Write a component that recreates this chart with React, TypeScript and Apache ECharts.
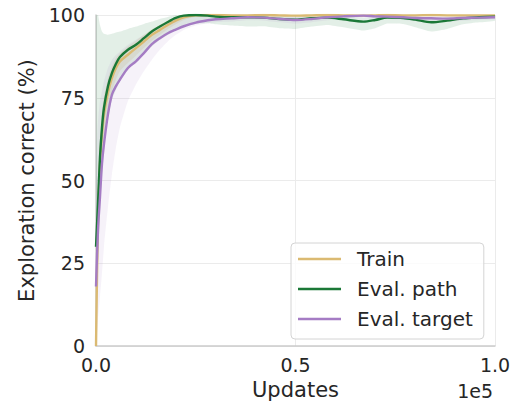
import React, { useEffect, useRef } from "react";
import * as echarts from "echarts";

// Updates in thousands (axis shows units of 1e5)
const UPDATES_K = [
  0, 0.5, 1, 1.5, 2, 3, 4, 5, 6, 8, 10, 12, 14, 16, 18, 20, 22, 25, 28,
  30, 34, 38, 42, 46, 50, 54, 58, 62, 67, 70, 73, 77, 80, 84, 88, 92, 96, 100,
];

const TRAIN = [
  0, 38, 55, 64, 70, 76.5, 81, 84, 86, 88, 90, 92, 94, 95.5, 97, 98.3, 99.3, 99.9, 100,
  100, 99.9, 99.9, 100, 99.9, 99.8, 99.9, 100, 99.9, 99.8, 99.9, 100, 99.9, 99.9, 100, 99.9, 99.9, 99.9, 99.9,
];
const TRAIN_UPPER = [
  5, 50, 63, 71, 75.5, 81, 84.5, 87, 88.5, 90.5, 92.2, 94, 95.7, 97, 98.3, 99.3, 99.9, 100, 100,
  100, 100, 100, 100, 100, 100, 100, 100, 100, 100, 100, 100, 100, 100, 100, 100, 100, 100, 100,
];
const TRAIN_LOWER = [
  0, 28, 46, 56, 63, 71, 77, 80.5, 83, 85.5, 87.7, 90, 92.2, 94, 95.7, 97.2, 98.5, 99.5, 99.7,
  99.6, 99.6, 99.6, 99.7, 99.6, 99.5, 99.6, 99.7, 99.6, 99.5, 99.6, 99.7, 99.6, 99.6, 99.7, 99.6, 99.6, 99.6, 99.6,
];

const EVAL_PATH = [
  30, 43, 57, 66, 72, 78.5, 82.5, 85.3, 87.3, 89.5, 91, 93, 95, 96.5, 97.9, 99.1, 99.8, 100, 99.8,
  99.5, 99.3, 99.3, 99.2, 98.8, 98.6, 99.0, 99.2, 98.7, 98.0, 98.5, 99.2, 99.1, 98.6, 97.8, 98.3, 99.0, 99.3, 99.5,
];
const EVAL_PATH_UPPER = [
  100, 100, 97, 95, 94.3, 94, 94.3, 94.7, 95, 95.8, 96.5, 97.3, 98, 98.8, 99.4, 99.9, 100, 100, 100,
  100, 100, 100, 100, 99.8, 99.6, 99.9, 100, 99.7, 99.2, 99.5, 100, 100, 99.6, 99.0, 99.3, 99.8, 100, 100,
];
const EVAL_PATH_LOWER = [
  10, 25, 40, 52, 60, 69, 74.5, 77.5, 80, 83.5, 86.5, 88.5, 90.5, 92.5, 94, 95.5, 96.5, 97.3, 97.5,
  97.2, 96.8, 96.5, 96.6, 96.0, 95.8, 96.5, 97.0, 96.3, 95.3, 96.0, 97.4, 97.3, 96.3, 95.0, 95.8, 97.2, 97.8, 98.3,
];

const EVAL_TARGET = [
  18, 35, 45, 55, 61, 70, 76, 78.5, 80.5, 84, 86, 88.5, 91.2, 93, 94.5, 95.6, 96.6, 97.7, 98.4,
  98.7, 99.0, 99.3, 99.2, 98.8, 98.5, 98.8, 99.3, 99.6, 99.8, 99.6, 99.5, 99.3, 99.1, 99.0, 98.9, 99.1, 99.2, 99.3,
];
const EVAL_TARGET_UPPER = [
  55, 68, 74, 77, 80, 84, 86.5, 88, 89, 91, 92.5, 94, 95.5, 96.8, 98, 99, 99.6, 100, 100,
  100, 100, 100, 100, 99.8, 99.6, 99.8, 100, 100, 100, 100, 100, 100, 100, 99.9, 99.8, 100, 100, 100,
];
const EVAL_TARGET_LOWER = [
  0, 8, 15, 22, 30, 42, 52, 60, 66, 74, 79, 83, 86.5, 89.5, 92, 94, 95.5, 96.8, 97.5,
  97.8, 98.0, 98.4, 98.3, 97.8, 97.4, 97.8, 98.4, 98.9, 99.2, 98.9, 98.8, 98.5, 98.2, 98.1, 98.0, 98.3, 98.5, 98.7,
];

const Y_TICKS_INTERVAL = 25;
const X_TICKS_INTERVAL = 50;

const NAMES = ["Train", "Eval. path", "Eval. target"];
const COLORS = ["#dbba72", "#1b7837", "#a57cc4"];
const FONT = "DejaVu Sans";
const TEXT = "#262626";

function bandSeries(key: string, lower: number[], upper: number[], color: string, alpha: number) {
  return {
    type: "custom",
    name: key,
    silent: true,
    clip: true,
    z: 1,
    data: UPDATES_K.map((x, i) => [x, lower[i], upper[i]]),
    encode: { x: 0, y: [1, 2] },
    renderItem: (params: any, api: any) => {
      if (params.dataIndex !== 0) return null;
      const pts: number[][] = [];
      for (let i = 0; i < UPDATES_K.length; i++) pts.push(api.coord([UPDATES_K[i], upper[i]]));
      for (let i = UPDATES_K.length - 1; i >= 0; i--) pts.push(api.coord([UPDATES_K[i], lower[i]]));
      return {
        type: "polygon",
        shape: { points: pts, smooth: 0.15 },
        style: { fill: color, opacity: alpha },
      };
    },
  };
}

function lineSeries(name: string, values: number[], color: string, z: number) {
  return {
    type: "line",
    name,
    data: UPDATES_K.map((x, i) => [x, values[i]]),
    smooth: 0.3,
    symbol: "none",
    showSymbol: false,
    color,
    lineStyle: { width: 2.4, color },
    z,
    silent: true,
  };
}

export default function App() {
  const ref = useRef<HTMLDivElement>(null);
  useEffect(() => {
    if (!ref.current) return;
    const chart = echarts.init(ref.current, null, { renderer: "svg" });
    chart.setOption({
      animation: false,
      textStyle: { fontFamily: FONT },
      grid: { left: 96, right: 21, top: 15, bottom: 55 },
      legend: {
        data: NAMES,
        orient: "vertical",
        left: 291,
        top: 243,
        icon: "rect",
        itemWidth: 43,
        itemHeight: 2.6,
        itemGap: 8,
        padding: [5, 11, 9, 7],
        borderColor: "#d4d4d4",
        borderWidth: 1,
        borderRadius: 4,
        backgroundColor: "rgba(255,255,255,0.8)",
        textStyle: { fontSize: 20, color: TEXT, fontFamily: FONT, lineHeight: 22, padding: [0, 0, 0, 11] },
      },
      xAxis: {
        type: "value",
        min: 0,
        max: 100,
        interval: X_TICKS_INTERVAL,
        name: "Updates",
        nameLocation: "middle",
        nameGap: 30,
        nameTextStyle: { fontSize: 21, color: TEXT, fontFamily: FONT },
        axisLine: { show: true, lineStyle: { color: "#cccccc", width: 1.5 } },
        axisTick: { show: false },
        axisLabel: {
          fontSize: 19,
          color: TEXT,
          fontFamily: FONT,
          margin: 9,
          formatter: (v: number) => (v / 100).toFixed(1),
        },
        splitLine: { show: true, lineStyle: { color: "#ebebeb", width: 1 } },
      },
      yAxis: {
        type: "value",
        min: 0,
        max: 100,
        interval: Y_TICKS_INTERVAL,
        name: "Exploration correct (%)",
        nameLocation: "middle",
        nameGap: 45,
        nameRotate: 90,
        nameTextStyle: { fontSize: 21, color: TEXT, fontFamily: FONT },
        axisLine: { show: true, lineStyle: { color: "#cccccc", width: 1.5 } },
        axisTick: { show: false },
        axisLabel: { fontSize: 19, color: TEXT, fontFamily: FONT, margin: 11 },
        splitLine: { show: true, lineStyle: { color: "#ebebeb", width: 1 } },
      },
      graphic: [
        {
          type: "text",
          right: 23,
          top: 381,
          style: { text: "1e5", fontSize: 19, fill: TEXT, fontFamily: FONT },
        },
      ],
      series: [
        bandSeries("bt", TRAIN_LOWER, TRAIN_UPPER, COLORS[0], 0.18),
        bandSeries("bp", EVAL_PATH_LOWER, EVAL_PATH_UPPER, COLORS[1], 0.12),
        bandSeries("bg", EVAL_TARGET_LOWER, EVAL_TARGET_UPPER, COLORS[2], 0.1),
        lineSeries(NAMES[0], TRAIN, COLORS[0], 3),
        lineSeries(NAMES[1], EVAL_PATH, COLORS[1], 4),
        lineSeries(NAMES[2], EVAL_TARGET, COLORS[2], 5),
      ],
    });
    return () => chart.dispose();
  }, []);
  return (
    <div
      ref={ref}
      style={{ position: "fixed", left: 0, top: 0, width: 516, height: 405, background: "#fff" }}
    />
  );
}
